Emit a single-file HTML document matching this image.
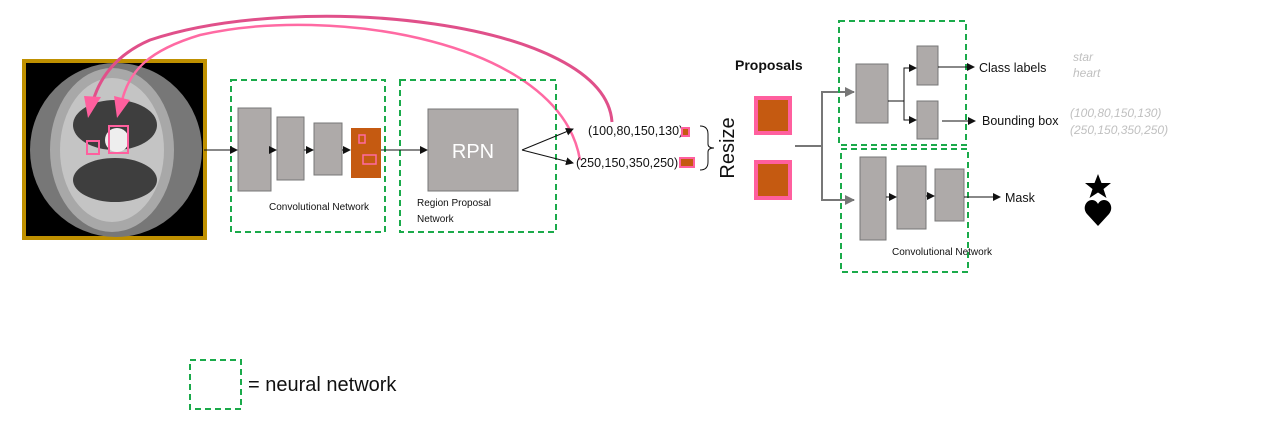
<!DOCTYPE html>
<html><head><meta charset="utf-8"><style>
html,body{margin:0;padding:0;background:#fff;}
svg{display:block;font-family:"Liberation Sans",sans-serif;}
</style></head><body>
<svg width="1280" height="434" viewBox="0 0 1280 434" xmlns="http://www.w3.org/2000/svg">
<defs>
<marker id="a" markerWidth="8" markerHeight="8" refX="7" refY="4" orient="auto" markerUnits="userSpaceOnUse"><path d="M0,0 L8,4 L0,8 z" fill="#111"/></marker>
<marker id="g" markerWidth="10" markerHeight="10" refX="9" refY="5" orient="auto" markerUnits="userSpaceOnUse"><path d="M0,0 L10,5 L0,10 z" fill="#777"/></marker>
</defs>
<!-- CT image -->
<rect x="24" y="61" width="181" height="177" fill="#000" stroke="#bf9000" stroke-width="4"/>
<ellipse cx="116" cy="150" rx="86" ry="87" fill="#777"/>
<ellipse cx="112" cy="150" rx="62" ry="82" fill="#a8a8a8"/>
<ellipse cx="112" cy="150" rx="52" ry="72" fill="#c4c4c4"/>
<ellipse cx="115" cy="125" rx="42" ry="25" fill="#3e3e3e"/>
<ellipse cx="115" cy="180" rx="42" ry="22" fill="#3e3e3e"/>
<ellipse cx="117" cy="140" rx="12" ry="12" fill="#eee"/>
<rect x="87" y="141" width="12" height="13" fill="none" stroke="#ff5f9e" stroke-width="2"/>
<rect x="109" y="126" width="19" height="27" fill="none" stroke="#ff5f9e" stroke-width="2"/>
<!-- pink arcs -->
<path d="M612,122 C605,20 300,-10 150,40 C115,55 98,80 92,105" fill="none" stroke="#e0508a" stroke-width="3"/>
<path d="M580,160 C560,40 330,5 200,35 C150,50 128,70 121,105" fill="none" stroke="#ff6aa3" stroke-width="2.5"/>
<path d="M84,96 L101,97 L88,118 z" fill="#ff5f9e"/>
<path d="M114,96 L130,100 L117,118 z" fill="#ff5f9e"/>
<!-- conv box -->
<rect x="231" y="80" width="154" height="152" fill="none" stroke="#1aaa4a" stroke-width="2" stroke-dasharray="6,4"/>
<rect x="238" y="108" width="33" height="83" fill="#aeaaa9" stroke="#777"/>
<rect x="277" y="117" width="27" height="63" fill="#aeaaa9" stroke="#777"/>
<rect x="314" y="123" width="28" height="52" fill="#aeaaa9" stroke="#777"/>
<rect x="351" y="128" width="30" height="50" fill="#c55a11"/>
<rect x="359" y="135" width="6" height="8" fill="none" stroke="#ff6aa3" stroke-width="1.5"/>
<rect x="363" y="155" width="13" height="9" fill="none" stroke="#ff6aa3" stroke-width="1.5"/>
<line x1="204" y1="150" x2="237" y2="150" stroke="#111" marker-end="url(#a)"/>
<line x1="271" y1="150" x2="276" y2="150" stroke="#111" marker-end="url(#a)"/>
<line x1="304" y1="150" x2="313" y2="150" stroke="#111" marker-end="url(#a)"/>
<line x1="342" y1="150" x2="350" y2="150" stroke="#111" marker-end="url(#a)"/>
<text x="269" y="210" font-size="10" fill="#111">Convolutional Network</text>
<!-- RPN box -->
<rect x="400" y="80" width="156" height="152" fill="none" stroke="#1aaa4a" stroke-width="2" stroke-dasharray="6,4"/>
<line x1="381" y1="150" x2="427" y2="150" stroke="#111" marker-end="url(#a)"/>
<rect x="428" y="109" width="90" height="82" fill="#aeaaa9" stroke="#777"/>
<text x="473" y="158" font-size="20" fill="#fff" text-anchor="middle">RPN</text>
<text x="417" y="206" font-size="10" fill="#111">Region Proposal</text>
<text x="417" y="222" font-size="10" fill="#111">Network</text>
<line x1="522" y1="150" x2="573" y2="129" stroke="#111" marker-end="url(#a)"/>
<line x1="522" y1="150" x2="573" y2="163" stroke="#111" marker-end="url(#a)"/>
<text x="588" y="135" font-size="12.5" fill="#111">(100,80,150,130)</text>
<text x="576" y="167" font-size="12.5" fill="#111">(250,150,350,250)</text>
<rect x="682" y="128" width="7" height="8" fill="#c55a11" stroke="#ff5f9e" stroke-width="2"/>
<rect x="680" y="158" width="14" height="9" fill="#c55a11" stroke="#ff5f9e" stroke-width="2"/>
<path d="M700,126 Q708,126 708,134 L708,144 Q708,148 714,148 Q708,148 708,152 L708,162 Q708,170 700,170" fill="none" stroke="#111"/>
<text transform="translate(734,148) rotate(-90)" font-size="20" fill="#111" text-anchor="middle">Resize</text>
<text x="735" y="70" font-size="14" font-weight="bold" fill="#111">Proposals</text>
<rect x="756" y="98" width="34" height="35" fill="#c55a11" stroke="#ff5f9e" stroke-width="4"/>
<rect x="756" y="162" width="34" height="36" fill="#c55a11" stroke="#ff5f9e" stroke-width="4"/>
<!-- head -->
<path d="M795,146 H822 V92 H854" fill="none" stroke="#777" stroke-width="2" marker-end="url(#g)"/>
<path d="M822,146 V200 H854" fill="none" stroke="#777" stroke-width="2" marker-end="url(#g)"/>
<rect x="839" y="21" width="127" height="124" fill="none" stroke="#1aaa4a" stroke-width="2" stroke-dasharray="6,4"/>
<rect x="841" y="149" width="127" height="123" fill="none" stroke="#1aaa4a" stroke-width="2" stroke-dasharray="6,4"/>
<rect x="856" y="64" width="32" height="59" fill="#aeaaa9" stroke="#777"/>
<rect x="917" y="46" width="21" height="39" fill="#aeaaa9" stroke="#777"/>
<rect x="917" y="101" width="21" height="38" fill="#aeaaa9" stroke="#777"/>
<path d="M888,101 H904 V68 H916" fill="none" stroke="#111" marker-end="url(#a)"/>
<path d="M904,101 V120 H916" fill="none" stroke="#111" marker-end="url(#a)"/>
<line x1="938" y1="67" x2="974" y2="67" stroke="#111" marker-end="url(#a)"/>
<line x1="942" y1="121" x2="975" y2="121" stroke="#111" marker-end="url(#a)"/>
<text x="979" y="72" font-size="12.5" fill="#111">Class labels</text>
<text x="982" y="125" font-size="12.5" fill="#111">Bounding box</text>
<rect x="860" y="157" width="26" height="83" fill="#aeaaa9" stroke="#777"/>
<rect x="897" y="166" width="29" height="63" fill="#aeaaa9" stroke="#777"/>
<rect x="935" y="169" width="29" height="52" fill="#aeaaa9" stroke="#777"/>
<line x1="886" y1="197" x2="896" y2="197" stroke="#111" marker-end="url(#a)"/>
<line x1="926" y1="196" x2="934" y2="196" stroke="#111" marker-end="url(#a)"/>
<line x1="964" y1="197" x2="1000" y2="197" stroke="#111" marker-end="url(#a)"/>
<text x="1005" y="202" font-size="12.5" fill="#111">Mask</text>
<text x="892" y="255" font-size="10" fill="#111">Convolutional Network</text>
<g font-size="12" font-style="italic" fill="#c0c0c0">
<text x="1073" y="61">star</text>
<text x="1073" y="77">heart</text>
<text x="1070" y="117">(100,80,150,130)</text>
<text x="1070" y="134">(250,150,350,250)</text>
</g>
<path d="M1098,174 L1101.5,183 L1111,183 L1103.5,189 L1106.5,198 L1098,192.5 L1089.5,198 L1092.5,189 L1085,183 L1094.5,183 z" fill="#000"/>
<path d="M1098,226 L1087,214 C1082,208 1086,200 1092,200 C1095,200 1097,202 1098,204 C1099,202 1101,200 1104,200 C1110,200 1114,208 1109,214 z" fill="#000"/>
<!-- legend -->
<rect x="190" y="360" width="51" height="49" fill="none" stroke="#1aaa4a" stroke-width="2" stroke-dasharray="6,4"/>
<text x="248" y="391" font-size="20" fill="#111">= neural network</text>
</svg>
</body></html>
